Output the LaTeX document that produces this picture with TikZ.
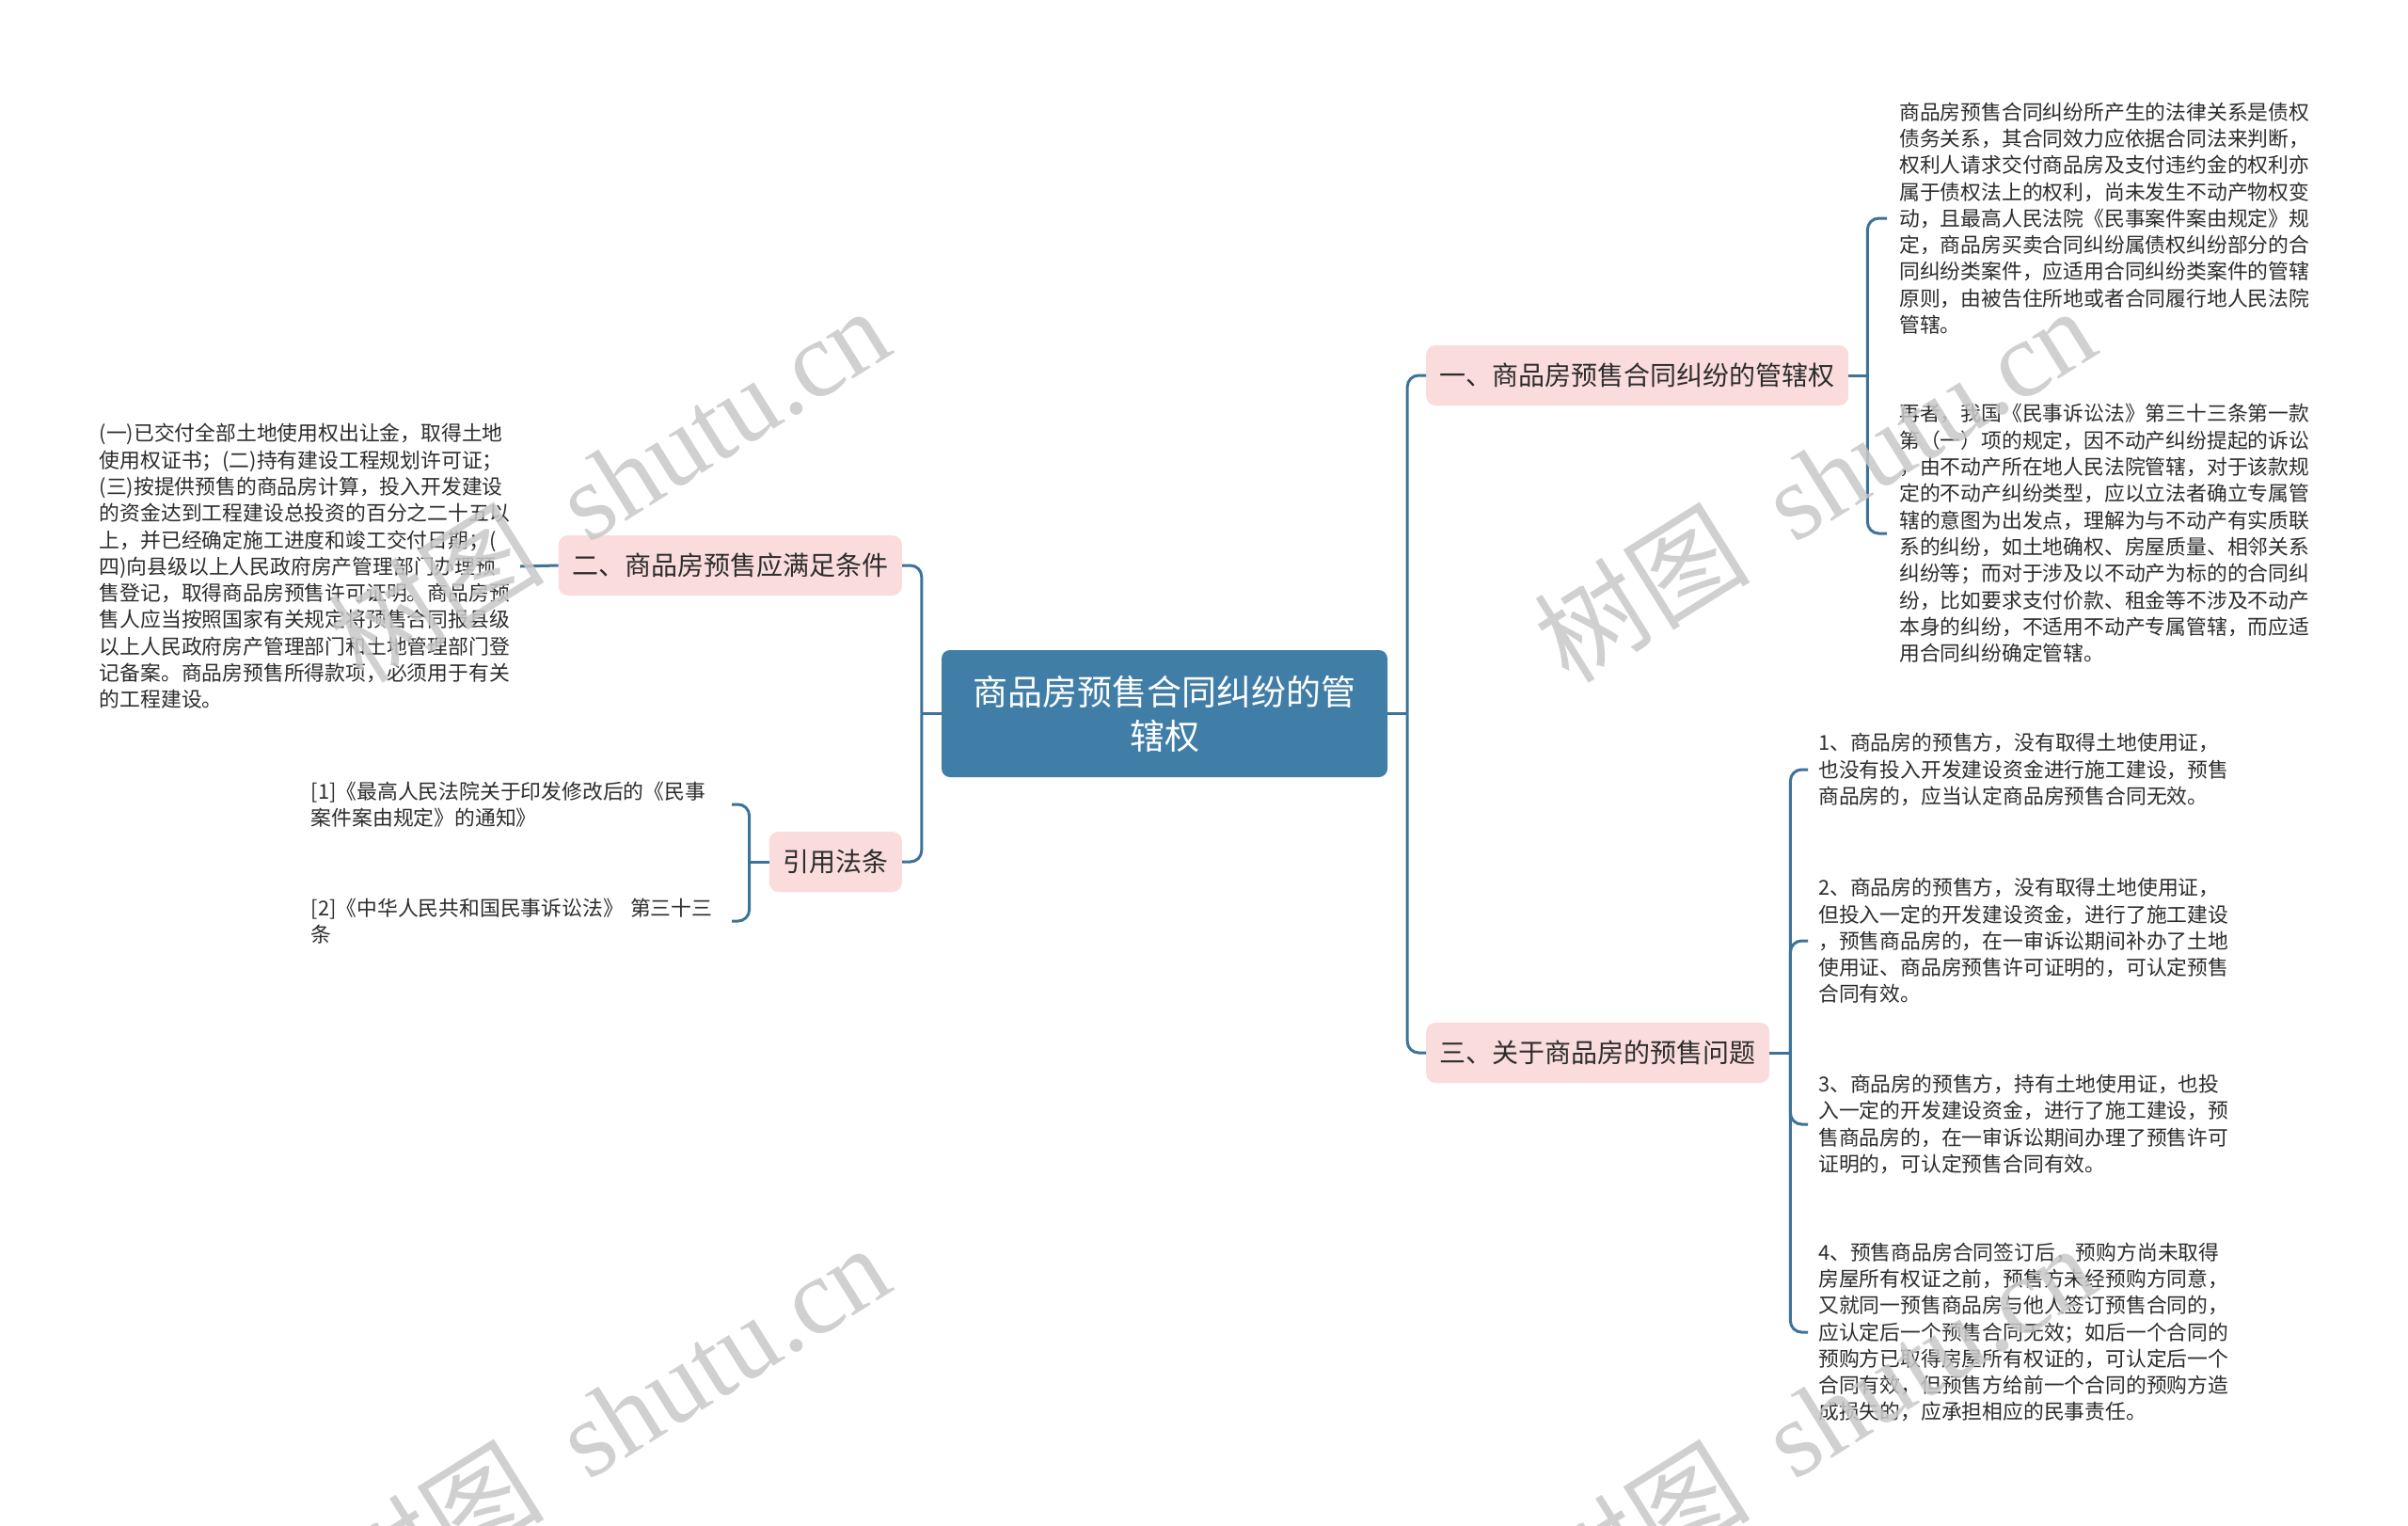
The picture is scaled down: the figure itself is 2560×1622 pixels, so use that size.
\documentclass[tikz,border=0pt]{standalone}
\usepackage{fontspec}
\setmainfont{Noto Sans CJK SC}
\newfontfamily\wmlatin{Liberation Serif}
\usetikzlibrary{calc}
\definecolor{linec}{RGB}{61,115,153}
\definecolor{rootc}{RGB}{64,126,167}
\definecolor{pinkc}{RGB}{250,220,220}
\definecolor{txtc}{RGB}{45,45,45}
\definecolor{wmc}{RGB}{200,200,200}
\begin{document}
\begin{tikzpicture}[x=1pt,y=-1pt,
  conn/.style={draw=linec, line width=3pt, rounded corners=12pt},
  root/.style={fill=rootc, rounded corners=9pt, minimum width=474pt, minimum height=135pt, text=white, align=center, font=\fontsize{37}{47}\selectfont, inner sep=0pt},
  topic/.style={fill=pinkc, rounded corners=10pt, minimum height=64pt, inner xsep=14.5pt, inner ysep=0pt, text=txtc, font=\fontsize{28}{34}\selectfont},
  body/.style={text width=437pt, align=left, inner ysep=0pt, inner xsep=11pt, text=txtc, font=\fontsize{21.8}{28.3}\selectfont},
  wm/.style={text=wmc, text opacity=0.85, rotate=32, inner sep=0pt, font=\fontsize{115}{120}\selectfont}
]
\useasboundingbox (0,0) rectangle (2560,1622);
\fill[white] (0,0) rectangle (2560,1622);

% main nodes
\node[root] (root) at (1238,758.5) {商品房预售合同纠纷的管\\辖权};
\node[topic, anchor=west] (n1) at (1516,399) {一、商品房预售合同纠纷的管辖权};
\node[topic, anchor=west] (n3) at (1516,1119) {三、关于商品房的预售问题};
\node[topic, anchor=east] (n2) at (959,601) {二、商品房预售应满足条件};
\node[topic, anchor=east] (n4) at (959,916) {引用法条};

% right texts of 一
\node[body, anchor=west, inner xsep=13pt] (a1) at (2006,232) {商品房预售合同纠纷所产生的法律关系是债权\\债务关系，其合同效力应依据合同法来判断，\\权利人请求交付商品房及支付违约金的权利亦\\属于债权法上的权利，尚未发生不动产物权变\\动，且最高人民法院《民事案件案由规定》规\\定，商品房买卖合同纠纷属债权纠纷部分的合\\同纠纷类案件，应适用合同纠纷类案件的管辖\\原则，由被告住所地或者合同履行地人民法院\\管辖。};
\node[body, anchor=west, inner xsep=13pt] (a2) at (2006,567) {再者，我国《民事诉讼法》第三十三条第一款\\第（一）项的规定，因不动产纠纷提起的诉讼\\，由不动产所在地人民法院管辖，对于该款规\\定的不动产纠纷类型，应以立法者确立专属管\\辖的意图为出发点，理解为与不动产有实质联\\系的纠纷，如土地确权、房屋质量、相邻关系\\纠纷等；而对于涉及以不动产为标的的合同纠\\纷，比如要求支付价款、租金等不涉及不动产\\本身的纠纷，不适用不动产专属管辖，而应适\\用合同纠纷确定管辖。};

% right texts of 三
\node[body, anchor=west] (c1) at (1922,818) {1、商品房的预售方，没有取得土地使用证，\\也没有投入开发建设资金进行施工建设，预售\\商品房的，应当认定商品房预售合同无效。};
\node[body, anchor=west] (c2) at (1922,1000) {2、商品房的预售方，没有取得土地使用证，\\但投入一定的开发建设资金，进行了施工建设\\，预售商品房的，在一审诉讼期间补办了土地\\使用证、商品房预售许可证明的，可认定预售\\合同有效。};
\node[body, anchor=west] (c3) at (1922,1195) {3、商品房的预售方，持有土地使用证，也投\\入一定的开发建设资金，进行了施工建设，预\\售商品房的，在一审诉讼期间办理了预售许可\\证明的，可认定预售合同有效。};
\node[body, anchor=west] (c4) at (1922,1416) {4、预售商品房合同签订后，预购方尚未取得\\房屋所有权证之前，预售方未经预购方同意，\\又就同一预售商品房与他人签订预售合同的，\\应认定后一个预售合同无效；如后一个合同的\\预购方已取得房屋所有权证的，可认定后一个\\合同有效，但预售方给前一个合同的预购方造\\成损失的，应承担相应的民事责任。};

% left texts
\node[body, anchor=east, inner xsep=10pt] (b1) at (553,602) {(一)已交付全部土地使用权出让金，取得土地\\使用权证书；(二)持有建设工程规划许可证；\\(三)按提供预售的商品房计算，投入开发建设\\的资金达到工程建设总投资的百分之二十五以\\上，并已经确定施工进度和竣工交付日期；(\\四)向县级以上人民政府房产管理部门办理预\\售登记，取得商品房预售许可证明。商品房预\\售人应当按照国家有关规定将预售合同报县级\\以上人民政府房产管理部门和土地管理部门登\\记备案。商品房预售所得款项，必须用于有关\\的工程建设。};
\node[body, anchor=east, inner xsep=10pt] (d1) at (778,855) {[1]《最高人民法院关于印发修改后的《民事\\案件案由规定》的通知》};
\node[body, anchor=east, inner xsep=10pt] (d2) at (778,979) {[2]《中华人民共和国民事诉讼法》 第三十三\\条};

% connectors
\coordinate (jr) at ($(root.east)+(21,0)$);
\draw[conn] (root.east) -- (jr);
\draw[conn] (jr) |- (n1.west);
\draw[conn] (jr) |- (n3.west);

\coordinate (jl) at ($(root.west)+(-21,0)$);
\draw[conn] (root.west) -- (jl);
\draw[conn] (jl) |- (n2.east);
\draw[conn] (jl) |- (n4.east);

\coordinate (j1) at ($(n1.east)+(20,0)$);
\draw[conn] (n1.east) -- (j1);
\draw[conn] (j1) |- (a1.west);
\draw[conn] (j1) |- (a2.west);

\coordinate (j3) at ($(n3.east)+(22,0)$);
\draw[conn] (n3.east) -- (j3);
\draw[conn] (j3) |- (c1.west);
\draw[conn] (j3) |- (c2.west);
\draw[conn] (j3) |- (c3.west);
\draw[conn] (j3) |- (c4.west);

\draw[conn] (n2.west) -- (b1.east);

\coordinate (j4) at ($(n4.west)+(-21,0)$);
\draw[conn] (n4.west) -- (j4);
\draw[conn] (j4) |- (d1.east);
\draw[conn] (j4) |- (d2.east);

% watermarks
\node[wm] (w1) at (647,514) {树图\hspace{0.45em}{\wmlatin shutu.cn}};
\node[wm] (w2) at (1929,514) {树图\hspace{0.45em}{\wmlatin shutu.cn}};
\node[wm] (w3) at (647,1510) {树图\hspace{0.45em}{\wmlatin shutu.cn}};
\node[wm] (w4) at (1929,1510) {树图\hspace{0.45em}{\wmlatin shutu.cn}};
\end{tikzpicture}
\end{document}
